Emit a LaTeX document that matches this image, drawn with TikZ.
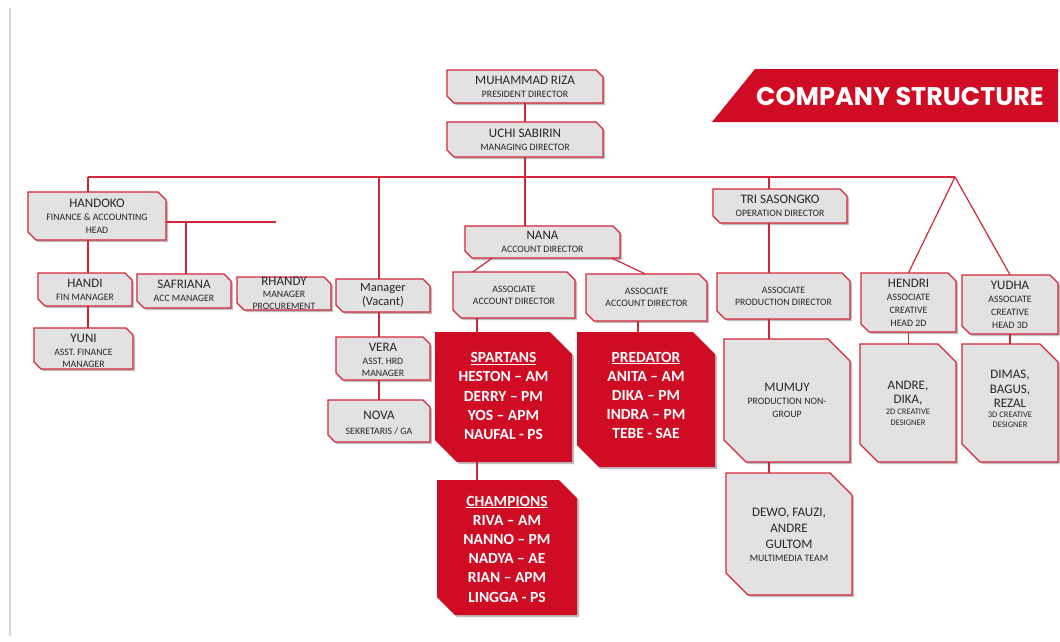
\documentclass[tikz,border=0pt]{standalone}
\usepackage{fontspec}
\setmainfont{Carlito}
\newfontfamily\bannerfont{Poppins}
\usetikzlibrary{calc}
\definecolor{redline}{RGB}{212,38,58}
\definecolor{redfill}{RGB}{208,12,36}
\definecolor{grayfill}{RGB}{226,226,226}
\definecolor{txt}{RGB}{38,38,38}
\definecolor{shadowc}{RGB}{190,190,190}
\definecolor{leftline}{RGB}{215,215,215}
\pgfdeclarelayer{background}
\pgfsetlayers{background,main}
\newcommand\cnm[1]{{\fontsize{13}{13}\selectfont #1}}
\newcommand\csb[1]{{\fontsize{9.8}{13}\selectfont #1}}
\newcommand\ctn[1]{{\fontsize{8.5}{11}\selectfont #1}}
% #1 name, #2 x1, #3 y1, #4 x2, #5 y2, #6 cut, #7 kind, #8 text, #9 text options
\newcommand\cb[9]{%
  \begin{pgfonlayer}{background}
    \fill[shadowc] ({#2+2},{#3+2}) -- ({#4-#6+2},{#3+2}) -- ({#4+2},{#3+#6+2}) -- ({#4+2},{#5+2}) -- ({#2+#6+2},{#5+2}) -- ({#2+2},{#5-#6+2}) -- cycle;
    \path[#7shape] (#2,#3) -- ({#4-#6},#3) -- (#4,{#3+#6}) -- (#4,#5) -- ({#2+#6},#5) -- (#2,{#5-#6}) -- cycle;
  \end{pgfonlayer}
  \node[inner sep=0pt, minimum width={#4-#2}, minimum height={#5-#3}] (#1) at ({(#2+#4)/2},{(#3+#5)/2}) {};
  \node[#7, #9] (#1-t) at (#1.center) {#8};
}
\tikzset{
  gboxshape/.style={fill=grayfill, draw=redline, line width=1.1pt, line join=miter},
  rboxshape/.style={fill=redfill},
  gbox/.style={inner sep=0pt, align=center, text=txt, font=\fontsize{10}{13}\selectfont},
  rbox/.style={inner sep=0pt, align=center, text=white, font=\fontsize{15.5}{19.2}\selectfont\bfseries},
  conn/.style={draw=redline, line width=1.2pt},
}
\begin{document}
\begin{tikzpicture}[x=1pt,y=-1pt]
\useasboundingbox (0,0) rectangle (1060,641);
\begin{pgfonlayer}{background}
\fill[white] (0,0) rectangle (1060,641);
\draw[leftline, line width=1.2pt] (10,8) -- (10,636);
\end{pgfonlayer}

% banner
\fill[redfill] (712,122) -- (755,69) -- (1058,69) -- (1058,122) -- cycle;
\node[text=white, font=\bannerfont\bfseries\fontsize{25.5}{27}\selectfont, inner sep=0pt] (banner) at (900,97) {COMPANY STRUCTURE};

% top
\cb{muh}{447}{70}{603}{103}{7}{gbox}{\cnm{MUHAMMAD RIZA}\\\csb{PRESIDENT DIRECTOR}}{}
\cb{uchi}{447}{122}{603}{157}{7}{gbox}{\cnm{UCHI SABIRIN}\\\csb{MANAGING DIRECTOR}}{}

% finance
\cb{handoko}{28}{192}{166}{240}{8}{gbox}{\cnm{HANDOKO}\\\csb{FINANCE \& ACCOUNTING}\\\csb{HEAD}}{}
\cb{handi}{38}{273}{132}{306}{7}{gbox}{\cnm{HANDI}\\\csb{FIN MANAGER}}{}
\cb{yuni}{34}{328}{133}{369}{7}{gbox}{\cnm{YUNI}\\\csb{ASST. FINANCE}\\[-1pt]\csb{MANAGER}}{yshift=-2pt}
\cb{safriana}{137}{274}{231}{308}{7}{gbox}{\cnm{SAFRIANA}\\\csb{ACC MANAGER}}{}
\cb{rhandy}{237}{277}{331}{310}{7}{gbox}{\cnm{RHANDY}\\[-1pt]\csb{MANAGER}\\[-1pt]\csb{PROCUREMENT}}{}

% HRD
\cb{mgr}{336}{279}{430}{312}{7}{gbox}{{\fontsize{12.5}{14}\selectfont Manager}\\[1pt]{\fontsize{12.5}{14}\selectfont (Vacant)}}{}
\cb{vera}{336}{337}{430}{380}{7}{gbox}{\cnm{VERA}\\\csb{ASST. HRD}\\[-1pt]\csb{MANAGER}}{yshift=-1pt}
\cb{nova}{328}{400}{430}{442}{7}{gbox}{\cnm{NOVA}\\[2pt]\csb{SEKRETARIS / GA}}{yshift=-2pt}

% account
\cb{nana}{465}{226}{620}{258}{7}{gbox}{\cnm{NANA}\\\csb{ACCOUNT DIRECTOR}}{}
\cb{a1}{453}{272}{575}{318}{8}{gbox}{\csb{ASSOCIATE}\\[-1pt]\csb{ACCOUNT DIRECTOR}}{}
\cb{a2}{586}{274}{707}{321}{8}{gbox}{\csb{ASSOCIATE}\\[-1pt]\csb{ACCOUNT DIRECTOR}}{}
\cb{spartans}{435}{332}{572}{462}{22}{rbox}{\underline{SPARTANS}\\HESTON – AM\\DERRY – PM\\YOS – APM\\NAUFAL - PS}{yshift=1pt}
\cb{predator}{577}{332}{715}{467}{22}{rbox}{\underline{PREDATOR}\\ANITA – AM\\DIKA – PM\\INDRA – PM\\TEBE - SAE}{yshift=4pt}
\cb{champ}{437}{480}{577}{615}{18}{rbox}{\underline{CHAMPIONS}\\RIVA – AM\\NANNO – PM\\NADYA – AE\\RIAN – APM\\LINGGA - PS}{yshift=-1.5pt}

% operation
\cb{tri}{713}{189}{847}{223}{7}{gbox}{\cnm{TRI SASONGKO}\\\csb{OPERATION DIRECTOR}}{}
\cb{aprod}{717}{273}{850}{319}{8}{gbox}{\csb{ASSOCIATE}\\[-1pt]\csb{PRODUCTION DIRECTOR}}{}
\cb{mumuy}{724}{339}{850}{462}{22}{gbox}{\cnm{MUMUY}\\\csb{PRODUCTION NON-}\\\csb{GROUP}}{}
\cb{dewo}{726}{473}{852}{595}{22}{gbox}{\cnm{DEWO, FAUZI,}\\[3pt]\cnm{ANDRE}\\[3pt]\cnm{GULTOM}\\\csb{MULTIMEDIA TEAM}}{yshift=-1pt}

% creative
\cb{hendri}{861}{273}{956}{332}{8}{gbox}{\cnm{HENDRI}\\\csb{ASSOCIATE}\\\csb{CREATIVE}\\\csb{HEAD 2D}}{}
\cb{yudha}{962}{275}{1058}{334}{8}{gbox}{\cnm{YUDHA}\\\csb{ASSOCIATE}\\\csb{CREATIVE}\\\csb{HEAD 3D}}{}
\cb{andre}{860}{344}{956}{462}{18}{gbox}{\cnm{ANDRE,}\\[1pt]\cnm{DIKA,}\\[-2pt]\ctn{2D CREATIVE}\\[-2pt]\ctn{DESIGNER}}{}
\cb{dimas}{962}{344}{1058}{462}{18}{gbox}{\cnm{DIMAS,}\\[2pt]\cnm{BAGUS,}\\[1pt]\cnm{REZAL}\\[-3pt]\ctn{3D CREATIVE}\\[-3pt]\ctn{DESIGNER}}{yshift=4pt}

% connectors
\coordinate (busL) at (88,177);
\coordinate (apex) at (955,177);
\coordinate (mj) at (379,177);
\coordinate (tj) at (769,177);
\coordinate (hr) at (276,222);
\coordinate (sj) at (186,222);
\coordinate (d1) at (492,0);
\coordinate (d2) at (473,0);
\coordinate (d3) at (612,0);
\coordinate (d4) at (645,0);
\coordinate (s1) at (477,0);
\coordinate (s2) at (638,0);

\draw[conn] (muh.south) -- (uchi.north);
\draw[conn] (uchi.south) -- (uchi.south |- nana.north);
\draw[conn] (busL) -- (apex);
\draw[conn] (busL) -- (busL |- handoko.north);
\draw[conn] (handoko.south -| busL) -- (handi.north -| busL);
\draw[conn] (handi.south -| busL) -- (yuni.north -| busL);
\draw[conn] (handoko.east |- hr) -- (hr);
\draw[conn] (sj) -- (sj |- safriana.north);
\draw[conn] (mj) -- (mj |- mgr.north);
\draw[conn] (mgr.south -| mj) -- (vera.north -| mj);
\draw[conn] (vera.south -| mj) -- (nova.north -| mj);
\draw[conn] (nana.south -| d1) -- (a1.north -| d2);
\draw[conn] (nana.south -| d3) -- (a2.north -| d4);
\draw[conn] (a1.south -| s1) -- (spartans.north -| s1);
\draw[conn] (spartans.south -| s1) -- (champ.north -| s1);
\draw[conn] (a2.south -| s2) -- (predator.north -| s2);
\draw[conn] (tj) -- (tj |- tri.north);
\draw[conn] (tri.south -| tj) -- (aprod.north -| tj);
\draw[conn] (aprod.south -| tj) -- (mumuy.north -| tj);
\draw[conn] (mumuy.south -| tj) -- (dewo.north -| tj);
\draw[conn] (apex) -- (hendri.north);
\draw[conn] (apex) -- (yudha.north);
\draw[conn] (hendri.south) -- (hendri.south |- andre.north);
\draw[conn] (yudha.south) -- (yudha.south |- dimas.north);
\end{tikzpicture}
\end{document}
